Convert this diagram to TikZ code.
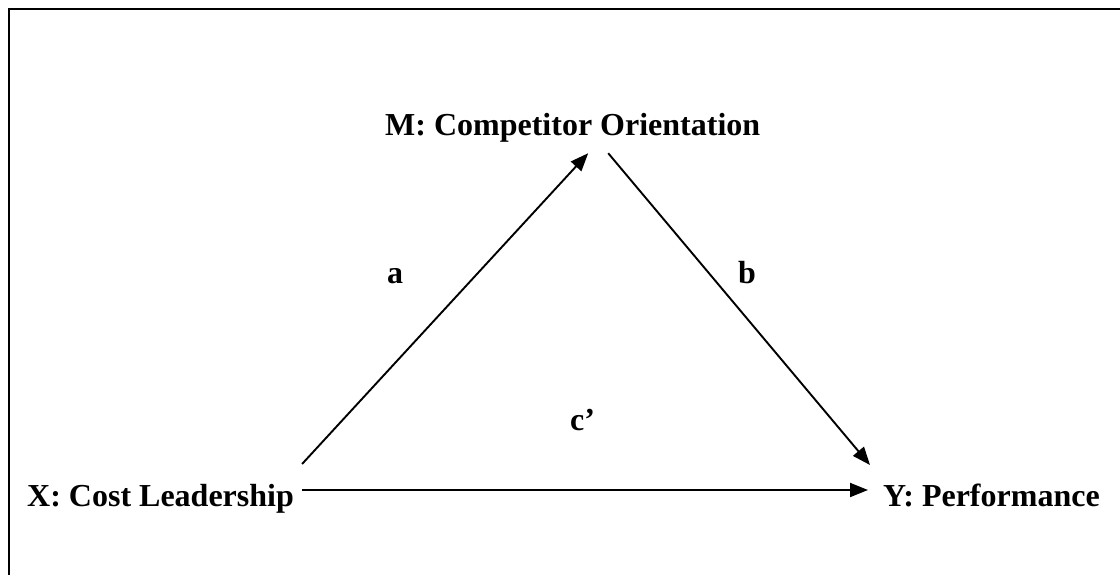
\documentclass[tikz,border=0pt]{standalone}
\usepackage{fontspec}
\setmainfont{Liberation Serif}
\usetikzlibrary{arrows.meta}

\begin{document}
\begin{tikzpicture}[
  x=1pt,y=-1pt,
  var/.style={font=\fontsize{32}{38}\selectfont\bfseries,inner sep=0pt,
              text height=22pt,text depth=7pt,anchor=base west},
  path/.style={font=\fontsize{32}{38}\selectfont\bfseries,inner sep=0pt,anchor=base west},
  arr/.style={-{Triangle[length=18pt,width=14pt]},line width=1.9pt}
]
\useasboundingbox (0,0) rectangle (1120,574);
\clip (0,0) rectangle (1120,574);
\draw[line width=2.5pt] (9,620) -- (9,9) -- (1160,9);

\node[var] (cost) at (27,506) {X: Cost Leadership};
\node[var] (comp) at (385,135) {M: Competitor Orientation};
\node[var] (perf) at (883,506) {Y: Performance};

\node[path] (pa) at (387,283) {a};
\node[path] (pb) at (738,283) {b};
\node[path] (pc) at (570,430) {c’};

\draw[arr] ([xshift=8pt,yshift=34.5pt]cost.east) -- ([xshift=15.5pt,yshift=-11pt]comp.south);
\draw[arr] ([xshift=35.5pt,yshift=-11pt]comp.south) -- ([xshift=-13pt,yshift=33.5pt]perf.west);
\draw[arr] ([xshift=8pt,yshift=8.5pt]cost.east) -- ([xshift=-15pt,yshift=8.5pt]perf.west);
\end{tikzpicture}
\end{document}
